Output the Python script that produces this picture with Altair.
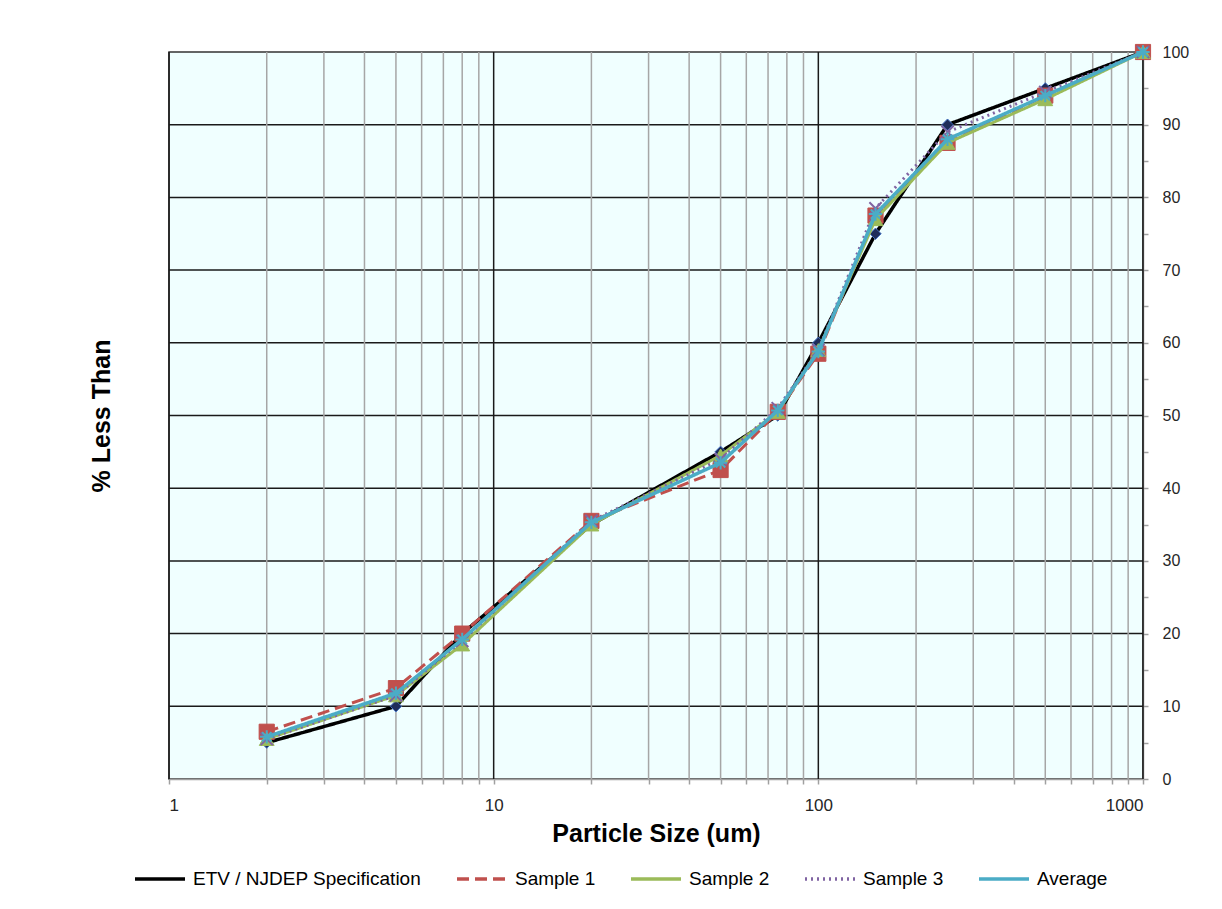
import altair as alt
import pandas as pd

# ---------------- data ----------------
sizes = [2, 5, 8, 20, 50, 75, 100, 150, 250, 500, 1000]
etv = [5, 10, 20, 35, 45, 50, 60, 75, 90, 95, 100]
sample1 = [6.5, 12.5, 20, 35.5, 42.5, 50.5, 58.5, 77.5, 87.5, 94, 100]
sample2 = [5.5, 11.5, 18.5, 35, 44.5, 50.5, 59, 77, 87.5, 93.5, 100]
sample3 = [5.5, 11.5, 19, 35.5, 44, 51, 59, 78.5, 89, 94.5, 100]
average = [5.8, 11.8, 19.2, 35.3, 43.5, 50.7, 58.8, 77.7, 88, 94, 100]

series_names = ["ETV / NJDEP Specification", "Sample 1", "Sample 2", "Sample 3", "Average"]
series_values = [etv, sample1, sample2, sample3, average]

x_major = [1, 10, 100, 1000]
x_minor = [2, 3, 4, 5, 6, 7, 8, 9, 20, 30, 40, 50, 60, 70, 80, 90,
           200, 300, 400, 500, 600, 700, 800, 900]
y_major = [10, 20, 30, 40, 50, 60, 70, 80, 90]
x_ticks = sorted(x_major + x_minor)
y_ticks = list(range(0, 101, 5))

# ---------------- styles ----------------
colors = ["#000000", "#C0504D", "#9BBB59", "#8064A2", "#4BACC6"]
dashes = [[1, 0], [12, 6], [1, 0], [2, 4], [1, 0]]
widths = [3.5, 3, 3, 3, 3.5]
X_PATH = "M-1,-1L1,1M-1,1L1,-1"
AST_PATH = "M-1,0L1,0M0,-1L0,1M-0.7,-0.7L0.7,0.7M-0.7,0.7L0.7,-0.7"
markers = [
    dict(shape="diamond", size=130, fill="#1F2D5A", stroke="#4472C4", strokeWidth=1),
    dict(shape="square", size=230, fill="#C0504D", stroke="#C0504D", strokeWidth=1),
    dict(shape="triangle-up", size=220, fill="#9BBB59", stroke="#9BBB59", strokeWidth=1),
    dict(shape=X_PATH, size=150, fill="#8064A2", stroke="#8064A2", strokeWidth=2),
    dict(shape=AST_PATH, size=180, fill="#4BACC6", stroke="#4BACC6", strokeWidth=2),
]

FONT = "Liberation Sans"

xscale = alt.Scale(type="log", domain=[1, 1000], nice=False)
yscale = alt.Scale(domain=[0, 100], nice=False, zero=False)

x_axis = alt.Axis(
    values=x_ticks,
    labelExpr="(datum.value == 1 || datum.value == 10 || datum.value == 100 || datum.value == 1000) ? format(datum.value, 'd') : ''",
    grid=False, domainColor="#A0A0A0", domainWidth=1.5,
    tickColor="#A0A0A0", tickWidth=1.5, tickSize=5,
    labelFont=FONT, labelFontSize=17, labelColor="#262626", labelPadding=13,
    title="Particle Size (um)", titleFont=FONT, titleFontSize=25,
    titleFontWeight="bold", titleColor="#000000", titlePadding=8,
)

right_axis = alt.Axis(
    orient="right", values=y_ticks,
    labelExpr="datum.value % 10 == 0 ? format(datum.value, 'd') : ''",
    grid=False, domainColor="#A0A0A0", domainWidth=1.5,
    tickColor="#A0A0A0", tickWidth=1.5, tickSize=5,
    labelFont=FONT, labelFontSize=16, labelColor="#262626", labelPadding=14,
    title=None,
)

left_axis = alt.Axis(
    orient="left", labels=False, ticks=False, domain=False, grid=False,
    title="% Less Than", titleFont=FONT, titleFontSize=25,
    titleFontWeight="bold", titleColor="#000000", titlePadding=55,
)

# ---------------- grid layers ----------------
ygrid = alt.Chart(pd.DataFrame({"v": y_major})).mark_rule(
    color="#1A1A1A", strokeWidth=1.5
).encode(y=alt.Y("v:Q", scale=yscale, axis=left_axis))

xminor = alt.Chart(pd.DataFrame({"v": x_minor})).mark_rule(
    color="#A6A6A6", strokeWidth=1.5
).encode(x=alt.X("v:Q", scale=xscale, axis=x_axis))

xmajor = alt.Chart(pd.DataFrame({"v": x_major})).mark_rule(
    color="#1A1A1A", strokeWidth=1.5
).encode(x=alt.X("v:Q", scale=xscale, axis=x_axis))

color_scale = alt.Scale(domain=series_names, range=colors)
dash_scale = alt.Scale(domain=series_names, range=dashes)

layers = [ygrid, xminor, xmajor]
for i, (name, vals) in enumerate(zip(series_names, series_values)):
    df = pd.DataFrame({"size": sizes, "pct": vals, "series": name})
    base = alt.Chart(df)
    yenc = alt.Y("pct:Q", scale=yscale, axis=right_axis if i == 0 else None)
    legend = alt.Legend(
        orient="none", legendX=-36, legendY=800, direction="horizontal",
        columns=5, title=None, symbolType="stroke", symbolSize=2500,
        symbolStrokeWidth=3.5, labelFont=FONT, labelFontSize=19,
        labelColor="#000000", labelOffset=6, columnPadding=28,
        labelLimit=0, gridAlign="none",
    ) if i == 0 else None
    line = base.mark_line(strokeWidth=widths[i]).encode(
        x=alt.X("size:Q", scale=xscale, axis=x_axis),
        y=yenc,
        color=alt.Color("series:N", scale=color_scale, legend=legend),
        strokeDash=alt.StrokeDash("series:N", scale=dash_scale, legend=legend),
    )
    m = markers[i]
    pts = base.mark_point(
        shape=m["shape"], size=m["size"], filled=True, fill=m["fill"],
        stroke=m["stroke"], strokeWidth=m["strokeWidth"], opacity=1,
    ).encode(
        x=alt.X("size:Q", scale=xscale, axis=x_axis),
        y=alt.Y("pct:Q", scale=yscale, axis=None),
    )
    layers += [line, pts]

chart = alt.layer(*layers).resolve_scale(y="shared").resolve_axis(y="independent").properties(
    width=974, height=727,
    padding={"left": 81, "top": 33, "right": 5, "bottom": 5},
    background="#FFFFFF",
).configure_view(
    fill="#F0FFFF", stroke="#333333", strokeWidth=1.5,
)

chart.save("out.html", embed_options={"renderer": "svg", "actions": False})
